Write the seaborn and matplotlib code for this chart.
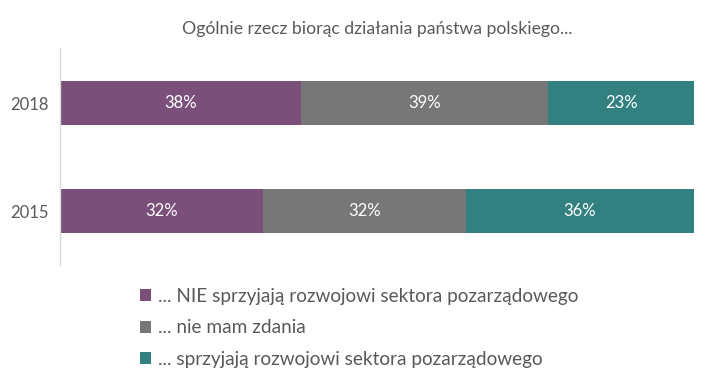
import pandas as pd
import numpy as np
import matplotlib
matplotlib.use("Agg")
import matplotlib.pyplot as plt
import seaborn as sns

# data
years = ["2018", "2015"]
nie_sprzyjaja = [38, 32]
nie_mam_zdania = [39, 32]
sprzyjaja = [23, 36]
series_labels = ["... NIE sprzyjają rozwojowi sektora pozarządowego",
                 "... nie mam zdania",
                 "... sprzyjają rozwojowi sektora pozarządowego"]
colors = ["#7a507a", "#777777", "#328080"]

sns.set_theme(style="white")
plt.rcParams['font.family'] = ['Lato', 'DejaVu Sans']

df = pd.DataFrame({
    "year": years,
    "s1": nie_sprzyjaja,
    "s2": nie_mam_zdania,
    "s3": sprzyjaja,
})
df["c1"] = df["s1"]
df["c2"] = df["s1"] + df["s2"]
df["c3"] = df["s1"] + df["s2"] + df["s3"]

fig = plt.figure(figsize=(7.09, 3.84), dpi=100)
ax = fig.add_axes([60/709, 1-265/384, 634/709, 217/384])

# stacked bars: draw cumulative totals back to front
for col, color, lab in zip(["c3", "c2", "c1"], colors[::-1], series_labels[::-1]):
    sns.barplot(data=df, x=col, y="year", order=years, color=color,
                width=0.4, saturation=1, label=lab, ax=ax, orient="h",
                linewidth=0, edgecolor="none")

# segment labels
for i, yr in enumerate(years):
    row = df[df["year"] == yr].iloc[0]
    starts = [0, row["c1"], row["c2"]]
    vals = [row["s1"], row["s2"], row["s3"]]
    for s, v in zip(starts, vals):
        ax.text(s + v / 2, i, f"{v}%", ha="center", va="center",
                color="white", fontsize=12)

ax.set_xlim(0, 100)
ax.set_ylim(1.5, -0.51)
ax.set_xlabel("")
ax.set_ylabel("")
ax.set_xticks([])
ax.tick_params(axis="y", length=0, labelsize=12, labelcolor="#595959", pad=8)
for side in ["top", "right", "bottom"]:
    ax.spines[side].set_visible(False)
ax.spines["left"].set_color("#d9d9d9")
ax.spines["left"].set_linewidth(1)
ax.set_title("Ogólnie rzecz biorąc działania państwa polskiego...",
             fontsize=12.7, color="#595959", pad=10)

handles, labels = ax.get_legend_handles_labels()
if ax.legend_:
    ax.legend_.remove()
handles = handles[::-1]
labels = labels[::-1]
fig.legend(handles, labels, loc="upper left", bbox_to_anchor=(140/709, 1-288/384),
           frameon=False, fontsize=13.7, handlelength=0.6, handleheight=0.6,
           handletextpad=0.35, labelspacing=0.76, labelcolor="#595959",
           borderpad=0, borderaxespad=0)

fig.savefig("out.png", dpi=100)
